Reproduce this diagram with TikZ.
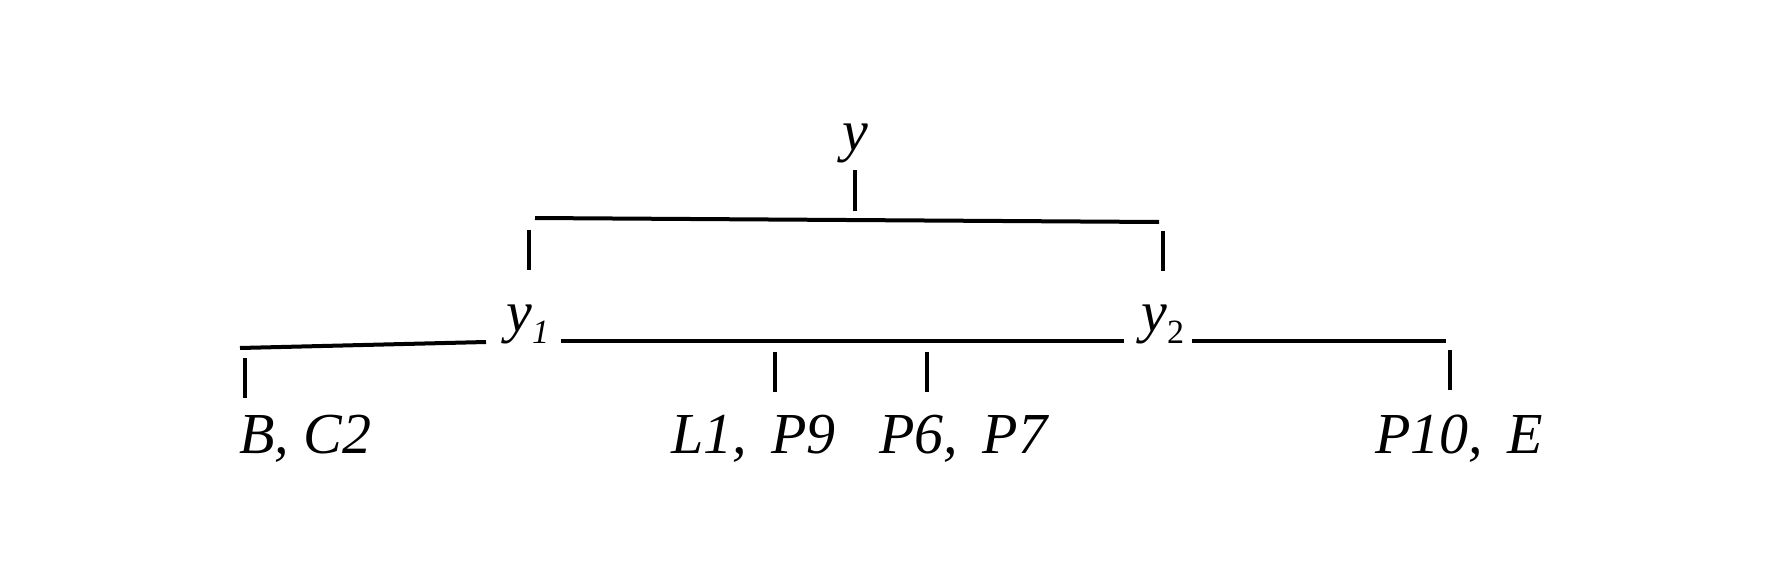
\documentclass[tikz,border=0pt]{standalone}
\usepackage{fontspec}
\setmainfont{Liberation Serif}
\usetikzlibrary{calc}

\newcommand{\subidx}[1]{\raisebox{-0.22em}{\fontsize{17}{17}\selectfont #1}}
\newcommand{\widesp}{\spaceskip=0.42em\relax}

\begin{document}
\begin{tikzpicture}[x=0.5pt,y=-0.5pt,
  lbl/.style={font=\fontsize{29}{29}\selectfont\itshape, inner sep=0pt, anchor=base west},
  bar/.style={line width=2pt},
  tick/.style={line width=2pt}]

% Frame
\useasboundingbox (0,0) rectangle (1784,584);

% Root and its bar
\node[lbl, anchor=base] (y) at (855,150) {y};
\coordinate (j0) at (855,219);
\coordinate (ja) at (529,218);
\coordinate (jb) at (1163,222);
\draw[bar] (535,218) coordinate (tl) -- (1159,222) coordinate (tr);
\draw[tick] (j0) ++(0,-8) -- ++(0,-41);
\draw[tick] (ja) ++(0,12) -- ++(0,40);
\draw[tick] (jb) ++(0,9) -- ++(0,40);

% Second level
\node[lbl] (y1) at (506,331) {y\subidx{1}};
\node[lbl] (y2) at (1141,331) {y\subidx{\upshape 2}};
\draw[bar] (240,348) coordinate (b0) -- (486,342) coordinate (b1);
\draw[bar] (561,341) coordinate (m0) -- (1124,341) coordinate (m1);
\draw[bar] (1192,341) coordinate (r0) -- (1446,341) coordinate (r1);

% Leaves
\node[lbl] (bc) at (239,453) {B, C2};
\node[lbl] (lp) at (671,453) {\widesp L1, P9};
\node[lbl] (pp) at (879,453) {\widesp P6, P7};
\node[lbl] (pe) at (1375,453) {\widesp P10, E};

\coordinate (k1) at (245,348);
\coordinate (k2) at (775,341);
\coordinate (k3) at (927,341);
\coordinate (k4) at (1450,341);
\foreach \k/\d in {k1/10,k2/11,k3/11,k4/9}
  \draw[tick] (\k) ++(0,\d) -- ++(0,40);

\end{tikzpicture}
\end{document}
